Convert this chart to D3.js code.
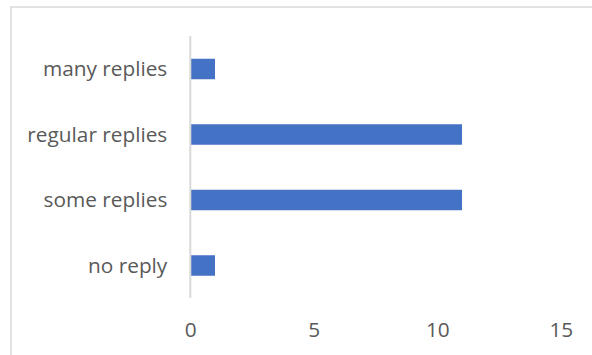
<!DOCTYPE html>
<html>
<head>
<meta charset="utf-8">
<script src="https://cdn.jsdelivr.net/npm/d3@7/dist/d3.min.js"></script>
<style>
  html, body { margin: 0; padding: 0; background: #fff; }
  svg { display: block; }
  text { font-family: "Open Sans", sans-serif; fill: #595959; }
</style>
</head>
<body>
<svg id="chart" width="592" height="355"></svg>
<script>
// Reply frequency counts, listed top to bottom
const categories = ["many replies", "regular replies", "some replies", "no reply"];
const counts = [1, 11, 11, 1];
const xTicks = [0, 5, 10, 15];

const svg = d3.select("#chart");

// Chart frame (left and top edges visible; right and bottom run past the canvas)
svg.append("rect")
  .attr("x", 11).attr("y", 7)
  .attr("width", 600).attr("height", 360)
  .attr("fill", "none")
  .attr("stroke", "#d9d9d9")
  .attr("stroke-width", 1.5);

const x = d3.scaleLinear().domain([0, 15]).range([190.3, 560.8]);
const y = d3.scaleBand()
  .domain(categories)
  .range([36.25, 298.25])
  .paddingInner(0.687)
  .paddingOuter(0.3435);

// Bars
svg.append("g")
  .selectAll("rect")
  .data(categories)
  .join("rect")
  .attr("x", x(0))
  .attr("y", d => y(d))
  .attr("width", (d, i) => x(counts[i]) - x(0))
  .attr("height", y.bandwidth())
  .attr("fill", "#4472c4");

// Vertical category axis line
svg.append("line")
  .attr("x1", x(0)).attr("x2", x(0))
  .attr("y1", 36).attr("y2", 298)
  .attr("stroke", "#d9d9d9")
  .attr("stroke-width", 2);

const labelSize = 20.8;
const labelFont = "'Open Sans', sans-serif";

// Category labels
const yAxis = d3.axisLeft(y).tickSize(0).tickPadding(23);
const gy = svg.append("g").attr("transform", `translate(${x(0)},0)`).call(yAxis);
gy.select(".domain").remove();
gy.selectAll("text")
  .attr("font-size", labelSize)
  .attr("fill", "#595959")
  .attr("dy", "0.35em")
  .style("font-family", labelFont);

// Value axis labels
const xAxis = d3.axisBottom(x).tickValues(xTicks).tickSize(0).tickPadding(0);
const gx = svg.append("g").attr("transform", "translate(0,330)").call(xAxis);
gx.select(".domain").remove();
gx.selectAll("text")
  .attr("y", 0)
  .attr("dy", "0.35em")
  .attr("font-size", labelSize)
  .attr("fill", "#595959")
  .style("font-family", labelFont);
</script>
</body>
</html>
